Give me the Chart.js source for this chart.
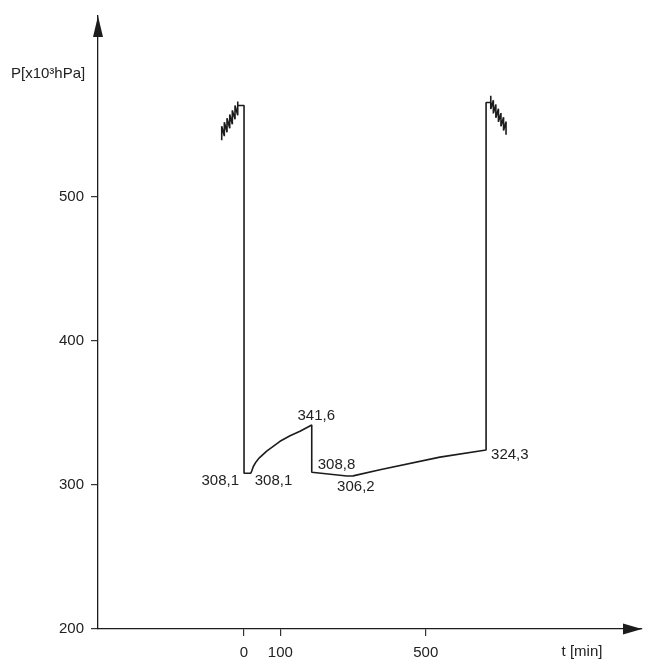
<!DOCTYPE html>
<html>
<head>
<meta charset="utf-8">
<script src="https://cdn.jsdelivr.net/npm/chart.js@4/dist/chart.umd.min.js"></script>
<style>
  html, body { margin: 0; padding: 0; background: #ffffff; }
  #wrap { width: 645px; height: 660px; }
</style>
</head>
<body>
<div id="wrap"><canvas id="c" width="645" height="660"></canvas></div>
<script>
// Pressure cycling before the start (t in minutes, P in 10^3 hPa)
const preT = [-61.4, -61.4, -54.2, -54.2, -46.8, -46.8, -39.3, -39.3, -32.2, -32.2, -24.8, -24.8, -17.3, -17.3, -17.3];
const preP = [539.3, 549.0, 542.1, 551.7, 544.8, 554.5, 547.6, 557.2, 550.3, 560.0, 553.8, 563.4, 556.6, 566.2, 563.4];

// Main run
const mainT = [0, 0, 18.4, 21.2, 25.6, 33, 42.1, 62.4, 99, 126.6, 154, 186.3, 186.3, 283, 300, 374, 539, 666, 666];
const mainP = [563.4, 308.1, 308.1, 309.6, 312.8, 316.0, 318.8, 323.5, 330.3, 334.1, 337.3, 341.6, 308.8, 306.2, 306.3, 310.5, 319.3, 324.3, 565.5];

// Pressure cycling after the run
const postT = [678.9, 678.9, 678.9, 686.0, 686.0, 692.9, 692.9, 700.0, 700.0, 706.9, 706.9, 714.1, 714.1, 720.9, 720.9];
const postP = [565.5, 570.1, 560.9, 567.1, 557.9, 564.1, 554.9, 561.2, 552.0, 558.1, 548.9, 555.2, 546.0, 552.2, 543.0];

// Annotated values
const noteText = ['308,1', '308,1', '341,6', '308,8', '306,2', '324,3'];
const noteT    = [0, 18.4, 186.3, 186.3, 283, 666];
const noteP    = [308.1, 308.1, 341.6, 308.8, 306.2, 324.3];

const xTicks = [0, 100, 500];
const yTicks = [200, 300, 400, 500];
const xTitle = 't [min]';
const yTitle = 'P[x10³hPa]';

// label placement relative to its point: [dx, dy, align]
const noteStyle = [
  [-5, 8, 'right'],
  [4, 8, 'left'],
  [4.5, -9, 'center'],
  [6, -7, 'left'],
  [9, 11, 'center'],
  [5, 5, 'left']
];

const X_MIN = -401.8, X_MAX = 1095;
const Y_MIN = 200, Y_MAX = 625.5;

const toPoints = (ts, ps) => ts.map((t, i) => ({ x: t, y: ps[i] }));
const curve = toPoints(preT, preP).concat(toPoints(mainT, mainP), toPoints(postT, postP));

const FONT = 'Liberation Sans, Arial, Helvetica, sans-serif';
const INK = '#1c1c1c';

const overlay = {
  id: 'overlay',
  afterDraw(chart) {
    const { ctx, chartArea: a, scales: { x, y } } = chart;
    ctx.save();
    ctx.fillStyle = INK;
    // arrow heads on both axes
    ctx.beginPath();
    ctx.moveTo(a.right, a.bottom);
    ctx.lineTo(a.right - 19, a.bottom - 5.5);
    ctx.lineTo(a.right - 19, a.bottom + 5.5);
    ctx.closePath();
    ctx.fill();
    ctx.beginPath();
    ctx.moveTo(a.left, a.top);
    ctx.lineTo(a.left - 5, a.top + 21);
    ctx.lineTo(a.left + 5, a.top + 21);
    ctx.closePath();
    ctx.fill();

    // axis titles
    ctx.fillStyle = '#222';
    ctx.font = '15px ' + FONT;
    ctx.textBaseline = 'middle';
    ctx.textAlign = 'left';
    ctx.fillText(yTitle, 11, 74);
    ctx.textAlign = 'center';
    ctx.fillText(xTitle, 582, 652);

    // value notes
    noteText.forEach((txt, i) => {
      const [dx, dy, al] = noteStyle[i];
      ctx.textAlign = al;
      ctx.fillText(txt, x.getPixelForValue(noteT[i]) + dx, y.getPixelForValue(noteP[i]) + dy);
    });
    ctx.restore();
  }
};

new Chart(document.getElementById('c').getContext('2d'), {
  type: 'scatter',
  data: {
    datasets: [{
      data: curve,
      showLine: true,
      borderColor: INK,
      borderWidth: 1.6,
      borderJoinStyle: 'bevel',
      pointRadius: 0,
      tension: 0,
      fill: false
    }]
  },
  options: {
    responsive: false,
    animation: false,
    devicePixelRatio: 1,
    layout: { padding: { left: 0, right: 3, top: 12, bottom: 0 } },
    plugins: { legend: { display: false }, tooltip: { enabled: false } },
    scales: {
      x: {
        type: 'linear',
        min: X_MIN,
        max: X_MAX,
        afterBuildTicks: s => { s.ticks = xTicks.map(v => ({ value: v })); },
        afterFit: s => { s.height = 31; },
        grid: { display: true, drawOnChartArea: false, drawTicks: true, tickLength: 7, color: '#333', lineWidth: 1.2 },
        border: { display: true, color: INK, width: 1.3 },
        ticks: { padding: 8, autoSkip: false, maxRotation: 0, color: '#222', font: { family: FONT, size: 15 }, callback: v => String(v) }
      },
      y: {
        type: 'linear',
        min: Y_MIN,
        max: Y_MAX,
        afterBuildTicks: s => { s.ticks = yTicks.map(v => ({ value: v })); },
        afterFit: s => { s.width = 98; },
        grid: { display: true, drawOnChartArea: false, drawTicks: true, tickLength: 7, color: '#333', lineWidth: 1.2 },
        border: { display: true, color: INK, width: 1.3 },
        ticks: { padding: 7, autoSkip: false, color: '#222', font: { family: FONT, size: 15 }, callback: v => String(v) }
      }
    }
  },
  plugins: [overlay]
});
</script>
</body>
</html>
